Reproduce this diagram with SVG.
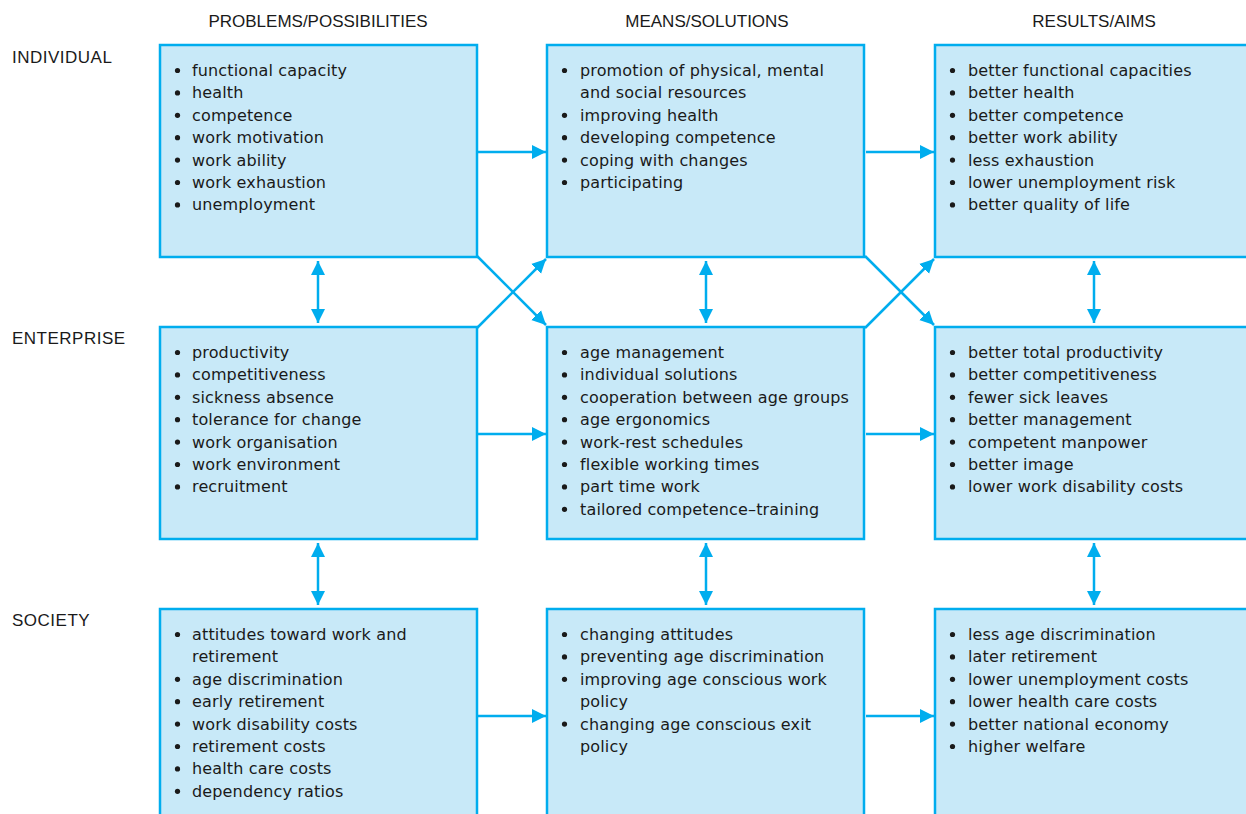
<svg xmlns="http://www.w3.org/2000/svg" width="1246" height="814" viewBox="0 0 1246 814">
<style>
.box{fill:#c8e9f8;stroke:#00adee;stroke-width:2.5}
.hd{font-family:"Liberation Sans",Arial,sans-serif;font-size:17px;fill:#1a1a1a}
.rl{letter-spacing:0.5px}
.tx{font-family:"DejaVu Sans",sans-serif;font-size:16px;letter-spacing:0.15px;fill:#1a1a1a}
.bl{fill:#1a1a1a}
.cn{stroke:#00adee;stroke-width:2.5;fill:none}
</style>
<defs>
<marker id="ah" markerUnits="userSpaceOnUse" markerWidth="16" markerHeight="16" viewBox="0 0 16 16" refX="14" refY="8" orient="auto-start-reverse">
<path d="M0,1 L14,8 L0,15 Z" fill="#00adee"/>
</marker>
</defs>
<g id="headers" class="hd">
<text x="318" y="27" text-anchor="middle">PROBLEMS/POSSIBILITIES</text>
<text x="707" y="27" text-anchor="middle">MEANS/SOLUTIONS</text>
<text x="1094" y="27" text-anchor="middle">RESULTS/AIMS</text>
<text class="rl" x="12" y="63">INDIVIDUAL</text>
<text class="rl" x="12" y="344">ENTERPRISE</text>
<text class="rl" x="12" y="626">SOCIETY</text>
</g>
<g id="connectors">
<line class="cn" x1="478" y1="152" x2="546" y2="152" marker-end="url(#ah)"/>
<line class="cn" x1="866" y1="152" x2="934" y2="152" marker-end="url(#ah)"/>
<line class="cn" x1="478" y1="434" x2="546" y2="434" marker-end="url(#ah)"/>
<line class="cn" x1="866" y1="434" x2="934" y2="434" marker-end="url(#ah)"/>
<line class="cn" x1="478" y1="716" x2="546" y2="716" marker-end="url(#ah)"/>
<line class="cn" x1="866" y1="716" x2="934" y2="716" marker-end="url(#ah)"/>
<line class="cn" x1="318" y1="261" x2="318" y2="323" marker-start="url(#ah)" marker-end="url(#ah)"/>
<line class="cn" x1="706" y1="261" x2="706" y2="323" marker-start="url(#ah)" marker-end="url(#ah)"/>
<line class="cn" x1="1094" y1="261" x2="1094" y2="323" marker-start="url(#ah)" marker-end="url(#ah)"/>
<line class="cn" x1="318" y1="543" x2="318" y2="605" marker-start="url(#ah)" marker-end="url(#ah)"/>
<line class="cn" x1="706" y1="543" x2="706" y2="605" marker-start="url(#ah)" marker-end="url(#ah)"/>
<line class="cn" x1="1094" y1="543" x2="1094" y2="605" marker-start="url(#ah)" marker-end="url(#ah)"/>
<line class="cn" x1="477" y1="256" x2="546" y2="325" marker-end="url(#ah)"/>
<line class="cn" x1="477" y1="328" x2="546" y2="259" marker-end="url(#ah)"/>
<line class="cn" x1="865" y1="256" x2="934" y2="325" marker-end="url(#ah)"/>
<line class="cn" x1="865" y1="328" x2="934" y2="259" marker-end="url(#ah)"/>
</g>
<g id="ind-problems">
<rect class="box" x="160" y="45" width="317" height="212"/>
<g class="bl"><circle cx="177.5" cy="70.5" r="2.6"/><circle cx="177.5" cy="92.9" r="2.6"/><circle cx="177.5" cy="115.3" r="2.6"/><circle cx="177.5" cy="137.7" r="2.6"/><circle cx="177.5" cy="160.1" r="2.6"/><circle cx="177.5" cy="182.5" r="2.6"/><circle cx="177.5" cy="204.9" r="2.6"/></g>
<text class="tx"><tspan x="192" y="76">functional capacity</tspan><tspan x="192" dy="22.4">health</tspan><tspan x="192" dy="22.4">competence</tspan><tspan x="192" dy="22.4">work motivation</tspan><tspan x="192" dy="22.4">work ability</tspan><tspan x="192" dy="22.4">work exhaustion</tspan><tspan x="192" dy="22.4">unemployment</tspan></text>
</g>
<g id="ind-means">
<rect class="box" x="547" y="45" width="317" height="212"/>
<g class="bl"><circle cx="564.5" cy="70.5" r="2.6"/><circle cx="564.5" cy="115.3" r="2.6"/><circle cx="564.5" cy="137.7" r="2.6"/><circle cx="564.5" cy="160.1" r="2.6"/><circle cx="564.5" cy="182.5" r="2.6"/></g>
<text class="tx"><tspan x="580" y="76">promotion of physical, mental</tspan><tspan x="580" dy="22.4">and social resources</tspan><tspan x="580" dy="22.4">improving health</tspan><tspan x="580" dy="22.4">developing competence</tspan><tspan x="580" dy="22.4">coping with changes</tspan><tspan x="580" dy="22.4">participating</tspan></text>
</g>
<g id="ind-results">
<rect class="box" x="935" y="45" width="330" height="212"/>
<g class="bl"><circle cx="952.5" cy="70.5" r="2.6"/><circle cx="952.5" cy="92.9" r="2.6"/><circle cx="952.5" cy="115.3" r="2.6"/><circle cx="952.5" cy="137.7" r="2.6"/><circle cx="952.5" cy="160.1" r="2.6"/><circle cx="952.5" cy="182.5" r="2.6"/><circle cx="952.5" cy="204.9" r="2.6"/></g>
<text class="tx"><tspan x="968" y="76">better functional capacities</tspan><tspan x="968" dy="22.4">better health</tspan><tspan x="968" dy="22.4">better competence</tspan><tspan x="968" dy="22.4">better work ability</tspan><tspan x="968" dy="22.4">less exhaustion</tspan><tspan x="968" dy="22.4">lower unemployment risk</tspan><tspan x="968" dy="22.4">better quality of life</tspan></text>
</g>
<g id="ent-problems">
<rect class="box" x="160" y="327" width="317" height="212"/>
<g class="bl"><circle cx="177.5" cy="352.5" r="2.6"/><circle cx="177.5" cy="374.9" r="2.6"/><circle cx="177.5" cy="397.3" r="2.6"/><circle cx="177.5" cy="419.7" r="2.6"/><circle cx="177.5" cy="442.1" r="2.6"/><circle cx="177.5" cy="464.5" r="2.6"/><circle cx="177.5" cy="486.9" r="2.6"/></g>
<text class="tx"><tspan x="192" y="358">productivity</tspan><tspan x="192" dy="22.4">competitiveness</tspan><tspan x="192" dy="22.4">sickness absence</tspan><tspan x="192" dy="22.4">tolerance for change</tspan><tspan x="192" dy="22.4">work organisation</tspan><tspan x="192" dy="22.4">work environment</tspan><tspan x="192" dy="22.4">recruitment</tspan></text>
</g>
<g id="ent-means">
<rect class="box" x="547" y="327" width="317" height="212"/>
<g class="bl"><circle cx="564.5" cy="352.5" r="2.6"/><circle cx="564.5" cy="374.9" r="2.6"/><circle cx="564.5" cy="397.3" r="2.6"/><circle cx="564.5" cy="419.7" r="2.6"/><circle cx="564.5" cy="442.1" r="2.6"/><circle cx="564.5" cy="464.5" r="2.6"/><circle cx="564.5" cy="486.9" r="2.6"/><circle cx="564.5" cy="509.3" r="2.6"/></g>
<text class="tx"><tspan x="580" y="358">age management</tspan><tspan x="580" dy="22.4">individual solutions</tspan><tspan x="580" dy="22.4">cooperation between age groups</tspan><tspan x="580" dy="22.4">age ergonomics</tspan><tspan x="580" dy="22.4">work-rest schedules</tspan><tspan x="580" dy="22.4">flexible working times</tspan><tspan x="580" dy="22.4">part time work</tspan><tspan x="580" dy="22.4">tailored competence–training</tspan></text>
</g>
<g id="ent-results">
<rect class="box" x="935" y="327" width="330" height="212"/>
<g class="bl"><circle cx="952.5" cy="352.5" r="2.6"/><circle cx="952.5" cy="374.9" r="2.6"/><circle cx="952.5" cy="397.3" r="2.6"/><circle cx="952.5" cy="419.7" r="2.6"/><circle cx="952.5" cy="442.1" r="2.6"/><circle cx="952.5" cy="464.5" r="2.6"/><circle cx="952.5" cy="486.9" r="2.6"/></g>
<text class="tx"><tspan x="968" y="358">better total productivity</tspan><tspan x="968" dy="22.4">better competitiveness</tspan><tspan x="968" dy="22.4">fewer sick leaves</tspan><tspan x="968" dy="22.4">better management</tspan><tspan x="968" dy="22.4">competent manpower</tspan><tspan x="968" dy="22.4">better image</tspan><tspan x="968" dy="22.4">lower work disability costs</tspan></text>
</g>
<g id="soc-problems">
<rect class="box" x="160" y="609" width="317" height="220"/>
<g class="bl"><circle cx="177.5" cy="634.5" r="2.6"/><circle cx="177.5" cy="679.3" r="2.6"/><circle cx="177.5" cy="701.7" r="2.6"/><circle cx="177.5" cy="724.1" r="2.6"/><circle cx="177.5" cy="746.5" r="2.6"/><circle cx="177.5" cy="768.9" r="2.6"/><circle cx="177.5" cy="791.3" r="2.6"/></g>
<text class="tx"><tspan x="192" y="640">attitudes toward work and</tspan><tspan x="192" dy="22.4">retirement</tspan><tspan x="192" dy="22.4">age discrimination</tspan><tspan x="192" dy="22.4">early retirement</tspan><tspan x="192" dy="22.4">work disability costs</tspan><tspan x="192" dy="22.4">retirement costs</tspan><tspan x="192" dy="22.4">health care costs</tspan><tspan x="192" dy="22.4">dependency ratios</tspan></text>
</g>
<g id="soc-means">
<rect class="box" x="547" y="609" width="317" height="220"/>
<g class="bl"><circle cx="564.5" cy="634.5" r="2.6"/><circle cx="564.5" cy="656.9" r="2.6"/><circle cx="564.5" cy="679.3" r="2.6"/><circle cx="564.5" cy="724.1" r="2.6"/></g>
<text class="tx"><tspan x="580" y="640">changing attitudes</tspan><tspan x="580" dy="22.4">preventing age discrimination</tspan><tspan x="580" dy="22.4">improving age conscious work</tspan><tspan x="580" dy="22.4">policy</tspan><tspan x="580" dy="22.4">changing age conscious exit</tspan><tspan x="580" dy="22.4">policy</tspan></text>
</g>
<g id="soc-results">
<rect class="box" x="935" y="609" width="330" height="220"/>
<g class="bl"><circle cx="952.5" cy="634.5" r="2.6"/><circle cx="952.5" cy="656.9" r="2.6"/><circle cx="952.5" cy="679.3" r="2.6"/><circle cx="952.5" cy="701.7" r="2.6"/><circle cx="952.5" cy="724.1" r="2.6"/><circle cx="952.5" cy="746.5" r="2.6"/></g>
<text class="tx"><tspan x="968" y="640">less age discrimination</tspan><tspan x="968" dy="22.4">later retirement</tspan><tspan x="968" dy="22.4">lower unemployment costs</tspan><tspan x="968" dy="22.4">lower health care costs</tspan><tspan x="968" dy="22.4">better national economy</tspan><tspan x="968" dy="22.4">higher welfare</tspan></text>
</g>
</svg>
